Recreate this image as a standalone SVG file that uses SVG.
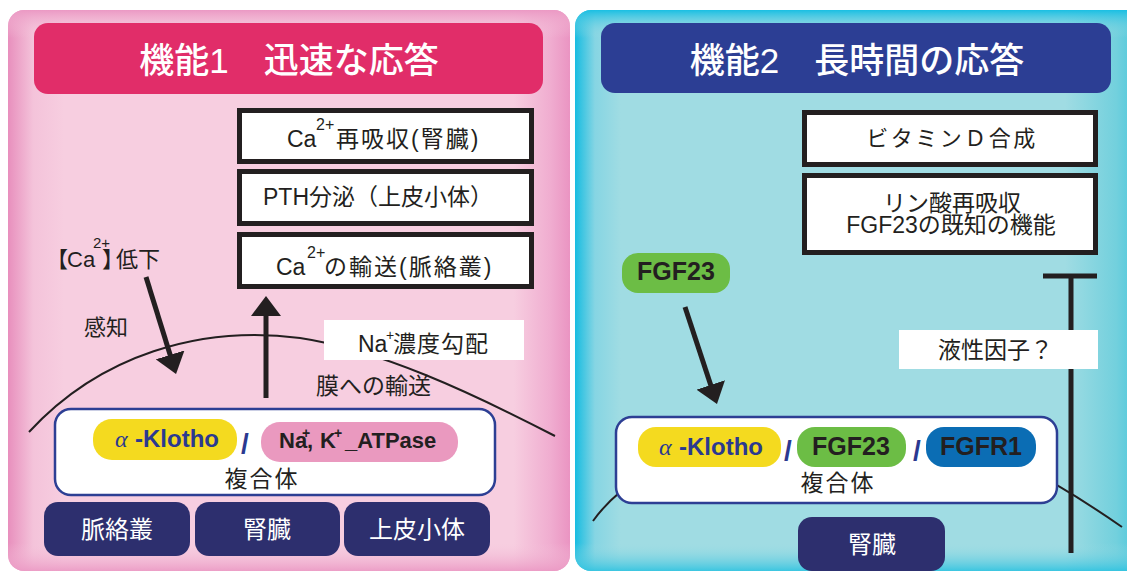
<svg xmlns="http://www.w3.org/2000/svg" width="1127" height="573" viewBox="0 0 1127 573">
<defs>
<style>
.t{font-family:"Liberation Sans","Noto Sans CJK JP",sans-serif;fill:#231f20}
.w{fill:#ffffff}
.b{font-weight:bold}
.box{fill:#ffffff;stroke:#231f20;stroke-width:5}
.cx{fill:#ffffff;stroke:#2d3f94;stroke-width:2.5}
.navy{fill:#2d2f6e}
.lbl{fill:#ffffff}
.mem{fill:none;stroke:#231f20;stroke-width:2}
.con{fill:none;stroke:#231f20;stroke-width:5}
.kl{fill:#2b3990}
</style>
<linearGradient id="pinkH" x1="0" x2="1" y1="0" y2="0">
<stop offset="0" stop-color="#e88fbd"/>
<stop offset="0.045" stop-color="#f4c3da"/>
<stop offset="0.1" stop-color="#f7cee0"/>
<stop offset="0.9" stop-color="#f7cee0"/>
<stop offset="0.965" stop-color="#f0add0"/>
<stop offset="1" stop-color="#ea94c2"/>
</linearGradient>
<linearGradient id="pinkV" x1="0" x2="0" y1="0" y2="1">
<stop offset="0" stop-color="#eb99c4" stop-opacity="1"/>
<stop offset="0.05" stop-color="#f5c6dc" stop-opacity="0"/>
<stop offset="0.95" stop-color="#f5c6dc" stop-opacity="0"/>
<stop offset="1" stop-color="#eb99c4" stop-opacity="0.9"/>
</linearGradient>
<linearGradient id="cyanX" x1="0" x2="1" y1="0" y2="0">
<stop offset="0" stop-color="#16bce1"/>
<stop offset="0.035" stop-color="#86d5e3"/>
<stop offset="0.08" stop-color="#a0dce3"/>
<stop offset="0.86" stop-color="#a0dce3"/>
<stop offset="0.95" stop-color="#72d0dd"/>
<stop offset="1" stop-color="#3ec5dc"/>
</linearGradient>
<linearGradient id="cyanV" x1="0" x2="0" y1="0" y2="1">
<stop offset="0" stop-color="#1abfe3" stop-opacity="1"/>
<stop offset="0.05" stop-color="#a0dce3" stop-opacity="0"/>
<stop offset="0.95" stop-color="#a0dce3" stop-opacity="0"/>
<stop offset="1" stop-color="#30c3e0" stop-opacity="0.9"/>
</linearGradient>
<marker id="arrow" viewBox="0 0 20 30" refX="6" refY="15" markerWidth="20" markerHeight="30" markerUnits="userSpaceOnUse" orient="auto">
<path d="M0,0 L20,15 L0,30 Z" fill="#231f20"/>
</marker>
</defs>

<rect x="0" y="0" width="1127" height="573" fill="#ffffff"/>

<!-- panels -->
<g id="panel1">
<rect x="8" y="10" width="562" height="561" rx="16" fill="url(#pinkH)"/>
<rect x="8" y="10" width="562" height="561" rx="16" fill="url(#pinkV)"/>
</g>
<g id="panel2">
<rect x="575" y="10" width="570" height="561" rx="16" fill="url(#cyanX)"/>
<rect x="575" y="10" width="570" height="561" rx="16" fill="url(#cyanV)"/>
</g>

<g id="title1">
<rect x="34" y="23" width="509" height="71" rx="14" fill="#e12d69"/>
<text class="t w" x="289" y="73" font-size="35" font-weight="500" text-anchor="middle">機能1　迅速な応答</text>
</g>
<g id="title2">
<rect x="601" y="23" width="510" height="70" rx="14" fill="#2c3e94"/>
<text class="t w" x="857" y="73" font-size="35" font-weight="500" text-anchor="middle">機能2　長時間の応答</text>
</g>

<!-- membranes -->
<g id="membranes">
<path class="mem" d="M29,432 C100,355 200,325 300,338 C380,350 470,392 555,436"/>
<path class="mem" d="M593,521 C640,455 760,420 850,420 C950,420 1040,470 1122,527"/>
</g>

<!-- connectors -->
<g id="connectors">
<path class="con" d="M146,277 L171.9,360.6" marker-end="url(#arrow)"/>
<path class="con" d="M266,398 L266,310" marker-end="url(#arrow)"/>
<path class="con" d="M685,307 L712.6,390.7" marker-end="url(#arrow)"/>
<path class="con" d="M1071,276 L1071,553 M1043,276 L1097,276"/>
</g>

<!-- left panel nodes -->
<g id="ca-reabs">
<rect class="box" x="239.5" y="110.5" width="292" height="51"/>
<text class="t" font-size="23"><tspan x="287" y="147">Ca</tspan><tspan x="316" y="130" font-size="16">2+</tspan><tspan x="336" y="147" letter-spacing="2">再吸収(腎臓)</tspan></text>
</g>
<g id="pth">
<rect class="box" x="239.5" y="171.5" width="292" height="52"/>
<text class="t" x="263" y="205" font-size="23">PTH分泌（上皮小体）</text>
</g>
<g id="ca-transport">
<rect class="box" x="239.5" y="234.5" width="292" height="52"/>
<text class="t" font-size="23"><tspan x="276" y="275">Ca</tspan><tspan x="307" y="258" font-size="16">2+</tspan><tspan x="324" y="275" letter-spacing="2">の輸送(脈絡叢)</tspan></text>
</g>

<g id="ca-low">
<text class="t" font-size="22"><tspan x="46" y="267">【</tspan><tspan x="67" y="267">Ca</tspan><tspan x="93" y="248" font-size="15">2+</tspan><tspan x="102" y="267">】</tspan><tspan x="116" y="267">低下</tspan></text>
</g>
<g id="sense">
<text class="t" x="84" y="335" font-size="22">感知</text>
</g>
<g id="na-gradient">
<rect class="lbl" x="324" y="320" width="200" height="40"/>
<text class="t" font-size="23"><tspan x="358" y="352">Na</tspan><tspan x="386" y="340" font-size="14">+</tspan><tspan x="393" y="352" letter-spacing="1">濃度勾配</tspan></text>
</g>
<g id="membrane-transport">
<text class="t" x="316" y="394" font-size="23">膜への輸送</text>
</g>

<g id="complex1">
<rect class="cx" x="55" y="409" width="440" height="86" rx="16"/>
<rect x="93" y="419" width="144" height="41" rx="19" fill="#f4da1f"/>
<text class="t kl" y="447"><tspan x="115" font-family="Liberation Serif" font-style="italic" font-size="24">α</tspan><tspan x="135" class="b" font-size="24">-Klotho</tspan></text>
<text class="t b kl" x="241" y="453" font-size="28">/</text>
<rect x="261" y="422" width="197" height="40" rx="19" fill="#ea99bf"/>
<text class="t b" font-size="22"><tspan x="279" y="448">Na</tspan><tspan x="302" y="438" font-size="14">+</tspan><tspan x="307" y="448">,</tspan><tspan x="320" y="448">K</tspan><tspan x="334" y="438" font-size="14">+</tspan><tspan x="345" y="448">_ATPase</tspan></text>
<text class="t" x="262" y="487" font-size="23" letter-spacing="2" text-anchor="middle">複合体</text>
</g>

<g id="choroid">
<rect class="navy" x="44" y="502" width="146" height="54" rx="14"/>
<text class="t w" x="117" y="538" font-size="24" text-anchor="middle">脈絡叢</text>
</g>
<g id="kidney1">
<rect class="navy" x="195" y="502" width="145" height="54" rx="14"/>
<text class="t w" x="267" y="538" font-size="24" text-anchor="middle">腎臓</text>
</g>
<g id="parathyroid">
<rect class="navy" x="344" y="502" width="146" height="54" rx="14"/>
<text class="t w" x="417" y="538" font-size="24" text-anchor="middle">上皮小体</text>
</g>

<!-- right panel nodes -->
<g id="vitd">
<rect class="box" x="804.5" y="112.5" width="291" height="52"/>
<text class="t" x="952" y="146" font-size="22" letter-spacing="2.5" text-anchor="middle">ビタミンＤ合成</text>
</g>
<g id="phos">
<rect class="box" x="804.5" y="175.5" width="291" height="77"/>
<text class="t" x="952" y="211" font-size="23" text-anchor="middle">リン酸再吸収</text>
<text class="t" x="951" y="233" font-size="23" text-anchor="middle">FGF23の既知の機能</text>
</g>
<g id="fgf23">
<rect x="622" y="253" width="108" height="40" rx="16" fill="#6cbd45"/>
<text class="t b" x="676" y="280" font-size="25" text-anchor="middle">FGF23</text>
</g>
<g id="humoral">
<rect class="lbl" x="899" y="330" width="199" height="39"/>
<text class="t" x="938" y="358" font-size="23">液性因子？</text>
</g>

<g id="complex2">
<rect class="cx" x="616" y="417" width="441" height="86" rx="16"/>
<rect x="638" y="427" width="143" height="40" rx="18" fill="#f4da1f"/>
<text class="t kl" y="455"><tspan x="659" font-family="Liberation Serif" font-style="italic" font-size="24">α</tspan><tspan x="679" class="b" font-size="24">-Klotho</tspan></text>
<text class="t b kl" x="784" y="460" font-size="28">/</text>
<rect x="797" y="427" width="109" height="40" rx="18" fill="#6cbd45"/>
<text class="t b" x="851" y="455" font-size="25" text-anchor="middle">FGF23</text>
<text class="t b kl" x="913" y="460" font-size="28">/</text>
<rect x="926" y="427" width="110" height="40" rx="18" fill="#0b6db4"/>
<text class="t b" x="981" y="455" font-size="25" text-anchor="middle">FGFR1</text>
<text class="t" x="838" y="491" font-size="23" letter-spacing="2" text-anchor="middle">複合体</text>
</g>
<g id="kidney2">
<rect class="navy" x="798" y="517" width="147" height="54" rx="14"/>
<text class="t w" x="872" y="553" font-size="24" text-anchor="middle">腎臓</text>
</g>
</svg>
